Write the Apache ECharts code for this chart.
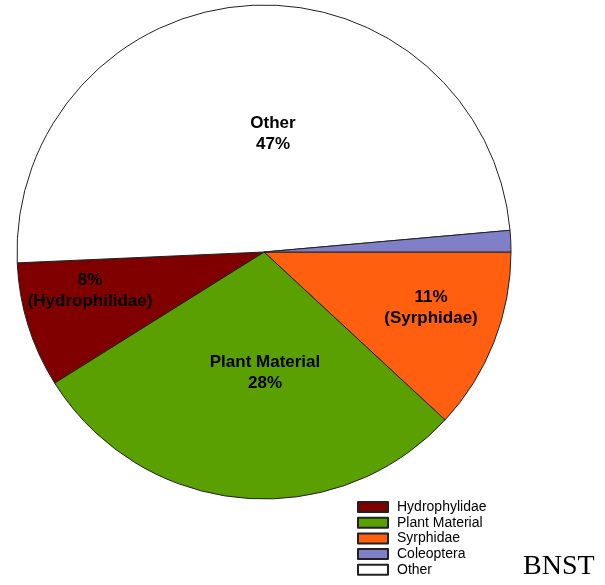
<!DOCTYPE html>
<html>
<head>
<meta charset="utf-8">
<script src="https://cdn.jsdelivr.net/npm/echarts@6/dist/echarts.min.js"></script>
<style>
html,body{margin:0;padding:0;background:#fff;}
#chart{width:605px;height:585px;}
</style>
</head>
<body>
<div id="chart"></div>
<script>
// Slice order clockwise from 3 o'clock
var categories = ['Syrphidae', 'Plant Material', 'Hydrophylidae', 'Other', 'Coleoptera'];
var shares = [11.9, 29.2, 8.2, 49.3, 1.4];
var labelTexts = ['11%\n(Syrphidae)', 'Plant Material\n28%', '8%\n(Hydrophilidae)', 'Other\n47%', ''];
var colors = ['#FF5F0F', '#5AA000', '#800000', '#FFFFFF', '#8080C8'];
var legendOrder = ['Hydrophylidae', 'Plant Material', 'Syrphidae', 'Coleoptera', 'Other'];

var labelPos = {
  'Syrphidae': [431, 308],
  'Plant Material': [265, 373],
  'Hydrophylidae': [90, 291],
  'Other': [273, 134]
};

var chart = echarts.init(document.getElementById('chart'), null, {renderer: 'canvas'});
var data = categories.map(function (c, i) {
  return {
    name: c,
    value: shares[i],
    itemStyle: {color: colors[i]},
    label: {show: labelTexts[i] !== '', formatter: labelTexts[i]}
  };
});

chart.setOption({
  animation: false,
  backgroundColor: '#fff',
  legend: {
    orient: 'vertical',
    left: 357,
    top: 500,
    height: 120,
    padding: 0,
    data: legendOrder,
    itemWidth: 30,
    itemHeight: 10,
    itemGap: 1.7,
    icon: 'rect',
    selectedMode: false,
    textStyle: {fontFamily: 'Arial, "Liberation Sans", sans-serif', fontSize: 14, color: '#000', padding: [0, 0, 0, 4]}
  },
  graphic: [{
    type: 'text',
    left: 523,
    top: 553,
    style: {text: 'BNST', font: '28px "Liberation Serif", "Times New Roman", serif', fill: '#000'}
  }],
  series: [{
    type: 'pie',
    center: [264, 252],
    radius: 247,
    startAngle: 0,
    clockwise: true,
    avoidLabelOverlap: false,
    data: data,
    itemStyle: {borderColor: '#222', borderWidth: 1},
    label: {
      position: 'inside',
      color: '#000',
      fontFamily: 'Arial, "Liberation Sans", sans-serif',
      fontWeight: 'bold',
      fontSize: 17,
      lineHeight: 21,
      align: 'center'
    },
    labelLine: {show: false},
    labelLayout: function (params) {
      var name = categories[params.dataIndex];
      var p = labelPos[name];
      if (!p) return {};
      return {x: p[0], y: p[1], align: 'center', verticalAlign: 'middle'};
    },
    emphasis: {disabled: true}
  }]
});
</script>
</body>
</html>
